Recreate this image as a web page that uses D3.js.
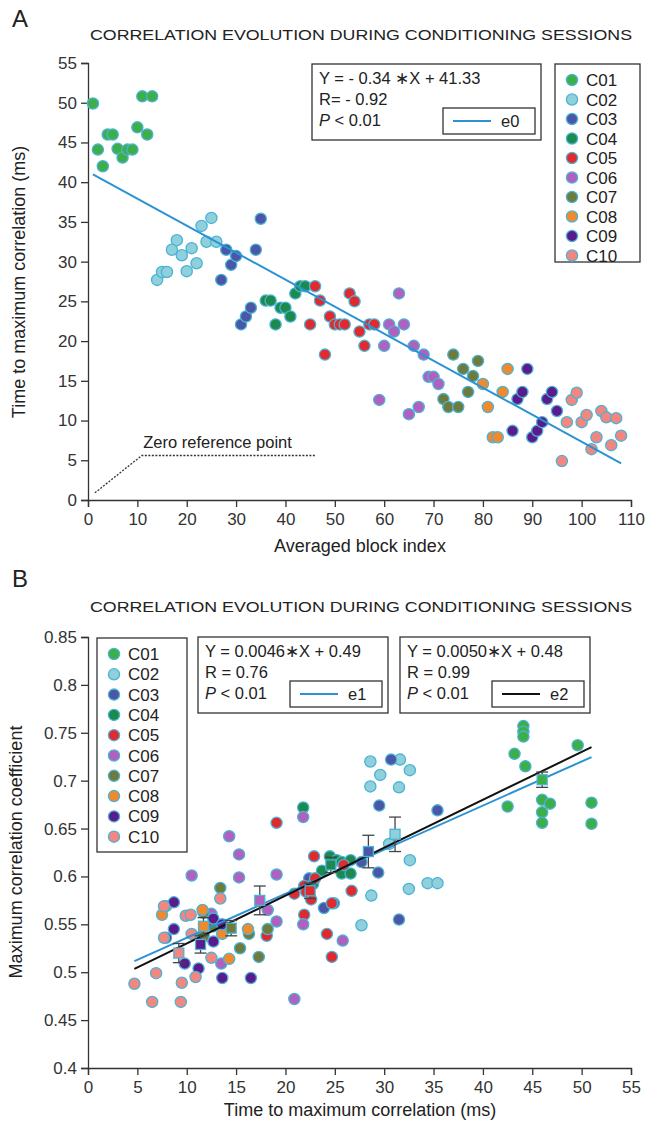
<!DOCTYPE html>
<html>
<head>
<meta charset="utf-8">
<script src="https://cdn.jsdelivr.net/npm/d3@7"></script>
<style>
  body { margin: 0; background: #fff; }
  svg { display: block; font-family: "Liberation Sans", Arial, sans-serif; }
  .axis path, .axis line { stroke: #333; stroke-width: 1.3; }
  .axis text { fill: #333; font-size: 17px; }
</style>
</head>
<body>
<div id="chart-area"></div>
<script>
// session names and colours
var sessions = ["C01", "C02", "C03", "C04", "C05", "C06", "C07", "C08", "C09", "C10"];
var colors = ["#3daf48", "#8fd0da", "#4b57a6", "#1b8a4c", "#e02a2e", "#b061bf",
              "#6d7c3e", "#f08a2c", "#5b1b8c", "#f2877f"];
var edge = "#4bb3d6";

// panel A: averaged block index -> time to maximum correlation (ms)
var blockA = [1,2,3,4,5,6,7,8,9,10,11,12,13,
  14,15,16,17,18,19,20,21,22,23,24,25,26,
  27,28,29,30,31,32,33,34,35,
  36,37,38,39,40,41,42,43,44,
  45,46,47,48,49,50,51,52,53,54,55,56,57,58,
  59,60,61,62,63,64,65,66,67,68,69,70,71,
  72,73,74,75,76,77,78,79,
  80,81,82,83,84,85,
  86,87,88,89,90,91,92,93,94,95,
  96,97,98,99,100,101,102,103,104,105,106,107,108];
var timeA = [49.9,44.1,42.0,46.0,46.0,44.2,43.1,44.1,44.1,46.9,50.8,46.0,50.8,
  27.7,28.7,28.7,31.5,32.7,30.8,28.8,31.7,29.8,34.5,32.5,35.5,32.5,
  27.7,31.5,29.6,30.7,22.1,23.1,24.2,31.5,35.4,
  25.1,25.1,22.1,24.2,24.2,23.1,26.0,26.9,26.9,
  22.1,26.9,25.1,18.3,23.1,22.1,22.1,22.1,26.0,25.0,21.2,19.4,22.1,22.1,
  12.6,19.4,22.1,21.2,26.0,22.1,10.8,19.4,11.7,18.3,15.5,15.5,14.6,
  12.7,11.7,18.3,11.7,16.5,13.6,15.6,17.5,
  14.6,11.7,7.9,7.9,13.6,16.5,
  8.7,12.7,13.6,16.5,7.9,8.7,9.8,12.7,13.6,11.2,
  4.9,9.8,12.6,13.5,9.8,10.7,6.4,7.9,11.2,10.4,6.9,10.3,8.1];
var sessA = [0,0,0,0,0,0,0,0,0,0,0,0,0,
  1,1,1,1,1,1,1,1,1,1,1,1,1,
  2,2,2,2,2,2,2,2,2,
  3,3,3,3,3,3,3,3,3,
  4,4,4,4,4,4,4,4,4,4,4,4,4,4,
  5,5,5,5,5,5,5,5,5,5,5,5,5,
  6,6,6,6,6,6,6,6,
  7,7,7,7,7,7,
  8,8,8,8,8,8,8,8,8,8,
  9,9,9,9,9,9,9,9,9,9,9,9,9];

// panel B: time to max correlation (ms) -> max correlation coefficient
var timeB = [42.5,43.2,44.1,44.1,44.1,44.3,46.0,46.0,46.0,46.8,49.6,51.0,51.0,
  28.6,31.6,29.6,32.6,28.6,31.5,30.5,32.6,27.7,28.7,32.5,34.4,35.4,
  30.7,29.5,35.4,31.5,23.9,27.7,22.4,24.9,29.4,
  24.5,25.2,25.7,26.6,23.7,25.7,26.6,22.8,21.8,
  19.1,22.9,20.9,21.9,21.9,22.6,24.2,24.7,24.7,26.7,18.1,22.1,25.9,23.0,
  10.5,12.5,13.5,14.3,15.3,15.3,18.2,19.1,19.1,20.9,21.8,21.8,25.8,
  11.7,11.7,12.7,13.4,15.4,16.3,17.3,18.2,
  7.5,7.9,11.6,13.6,14.3,16.2,
  7.9,8.7,8.7,9.8,11.2,12.7,12.7,13.6,13.6,16.5,
  4.7,6.5,6.9,9.4,9.5,10.9,7.7,7.7,9.9,10.4,10.5,12.5,13.4];
var corrB = [0.673,0.728,0.757,0.751,0.746,0.715,0.680,0.667,0.656,0.676,0.737,0.677,0.655,
  0.720,0.722,0.706,0.711,0.694,0.693,0.634,0.617,0.549,0.580,0.587,0.593,0.593,
  0.722,0.674,0.669,0.555,0.567,0.615,0.598,0.572,0.604,
  0.621,0.617,0.615,0.617,0.606,0.603,0.603,0.592,0.672,
  0.656,0.621,0.582,0.560,0.590,0.576,0.540,0.572,0.516,0.585,0.538,0.584,0.612,0.598,
  0.601,0.561,0.509,0.642,0.623,0.599,0.565,0.602,0.553,0.472,0.662,0.550,0.533,
  0.562,0.537,0.548,0.588,0.525,0.540,0.516,0.545,
  0.560,0.569,0.565,0.540,0.514,0.545,
  0.536,0.573,0.545,0.509,0.504,0.556,0.532,0.494,0.550,0.494,
  0.488,0.469,0.499,0.469,0.489,0.495,0.536,0.569,0.559,0.560,0.540,0.515,0.577];
var sessB = sessA;

// session means with error bars (panel B)
var meanX = [46.0, 31.1, 28.4, 24.6, 22.5, 17.4, 14.5, 11.7, 11.4, 9.2];
var meanY = [0.701, 0.644, 0.626, 0.612, 0.585, 0.575, 0.546, 0.548, 0.529, 0.520];
var meanErr = [0.008, 0.018, 0.017, 0.008, 0.008, 0.015, 0.008, 0.009, 0.009, 0.010];

// fits
var fitA = {slope: -0.34, icpt: 41.33, x0: 1, x1: 108};
var fitB1 = {slope: 0.0046, icpt: 0.49, x0: 4.7, x1: 51};
var fitB2 = {slope: 0.0050, icpt: 0.48, x0: 4.7, x1: 51};

var xTicksA = d3.range(0, 111, 10);
var yTicksA = d3.range(0, 56, 5);
var xTicksB = d3.range(0, 56, 5);
var yTicksB = [0.4, 0.45, 0.5, 0.55, 0.6, 0.65, 0.7, 0.75, 0.8, 0.85];

var svg = d3.select("#chart-area")
    .append("svg")
    .attr("width", 648)
    .attr("height", 1134);

var r = 5.6;

function drawLegend(g, x, y, w, h, gap) {
    g.append("rect").attr("x", x).attr("y", y).attr("width", w).attr("height", h)
        .attr("fill", "#fff").attr("stroke", "#333").attr("stroke-width", 1.3);
    sessions.forEach((s, i) => {
        g.append("circle").attr("cx", x + 17).attr("cy", y + 16 + i * gap).attr("r", r)
            .attr("fill", colors[i]).attr("stroke", edge).attr("stroke-width", 1.3);
        g.append("text").attr("x", x + 31).attr("y", y + 22 + i * gap)
            .attr("font-size", 17).attr("fill", "#222").text(s);
    });
}

function drawEqBox(g, x, y, w, h, lines, lineColor, name) {
    g.append("rect").attr("x", x).attr("y", y).attr("width", w).attr("height", h)
        .attr("fill", "#fff").attr("stroke", "#333").attr("stroke-width", 1.3);
    g.append("text").attr("x", x + 7).attr("y", y + 20).attr("font-size", 16.5).attr("fill", "#222").text(lines[0]);
    g.append("text").attr("x", x + 7).attr("y", y + 41).attr("font-size", 16.5).attr("fill", "#222").text(lines[1]);
    var t = g.append("text").attr("x", x + 7).attr("y", y + 62).attr("font-size", 16.5).attr("fill", "#222");
    t.append("tspan").attr("font-style", "italic").text("P");
    t.append("tspan").text(" < 0.01");
    var bx = x + w - 98, by = y + h - 32;
    g.append("rect").attr("x", bx).attr("y", by).attr("width", 92).attr("height", 26)
        .attr("fill", "#fff").attr("stroke", "#333").attr("stroke-width", 1.3);
    g.append("line").attr("x1", bx + 10).attr("x2", bx + 48).attr("y1", by + 13).attr("y2", by + 13)
        .attr("stroke", lineColor).attr("stroke-width", 2);
    g.append("text").attr("x", bx + 58).attr("y", by + 19).attr("font-size", 16.5).attr("fill", "#222").text(name);
}

// ---------------- panel A ----------------
var xA = d3.scaleLinear().domain([0, 110]).range([88, 631]);
var yA = d3.scaleLinear().domain([0, 55]).range([500, 63]);
var gA = svg.append("g");

gA.append("text").attr("x", 12).attr("y", 27).attr("font-size", 24).attr("fill", "#222").text("A");
gA.append("text").attr("x", 90).attr("y", 40).attr("font-size", 15.5).attr("fill", "#222")
    .attr("textLength", 542).attr("lengthAdjust", "spacingAndGlyphs")
    .text("CORRELATION EVOLUTION DURING CONDITIONING SESSIONS");

gA.append("g").attr("class", "axis").attr("transform", "translate(0,500)")
    .call(d3.axisBottom(xA).tickValues(xTicksA).tickSizeOuter(0).tickSize(7).tickPadding(6));
gA.append("g").attr("class", "axis").attr("transform", "translate(88,0)")
    .call(d3.axisLeft(yA).tickValues(yTicksA).tickSizeOuter(0).tickSize(7).tickPadding(4));

gA.append("text").attr("x", 360).attr("y", 552).attr("text-anchor", "middle")
    .attr("font-size", 18).attr("fill", "#222").text("Averaged block index");
gA.append("text").attr("transform", "translate(25,282) rotate(-90)").attr("text-anchor", "middle")
    .attr("font-size", 18).attr("fill", "#222").text("Time to maximum correlation (ms)");

// zero reference annotation
var zeroRef = [[1.4, 0.9], [10.9, 5.6], [46, 5.6]];
gA.append("path")
    .attr("d", d3.line().x(d => xA(d[0])).y(d => yA(d[1]))(zeroRef))
    .attr("fill", "none").attr("stroke", "#333").attr("stroke-width", 1.3).attr("stroke-dasharray", "2,1.5");
gA.append("text").attr("x", xA(11.2)).attr("y", yA(6.6)).attr("font-size", 16.5).attr("fill", "#222")
    .text("Zero reference point");

gA.selectAll("circle.pt").data(blockA).enter().append("circle")
    .attr("class", "pt")
    .attr("cx", d => xA(d))
    .attr("cy", (d, i) => yA(timeA[i]))
    .attr("r", r)
    .attr("fill", (d, i) => colors[sessA[i]])
    .attr("stroke", edge).attr("stroke-width", 1.3);

gA.append("line")
    .attr("x1", xA(fitA.x0)).attr("y1", yA(fitA.slope * fitA.x0 + fitA.icpt))
    .attr("x2", xA(fitA.x1)).attr("y2", yA(fitA.slope * fitA.x1 + fitA.icpt))
    .attr("stroke", "#2a93d3").attr("stroke-width", 2);

drawEqBox(gA, 312, 64, 229, 76, ["Y = - 0.34 \u2217X + 41.33", "R= - 0.92"], "#2a93d3", "e0");
drawLegend(gA, 555, 64, 85, 198, 19.5);

// ---------------- panel B ----------------
var xB = d3.scaleLinear().domain([0, 55]).range([88, 631]);
var yB = d3.scaleLinear().domain([0.4, 0.85]).range([1068, 637]);
var gB = svg.append("g");

gB.append("text").attr("x", 12).attr("y", 587).attr("font-size", 24).attr("fill", "#222").text("B");
gB.append("text").attr("x", 90).attr("y", 612).attr("font-size", 15.5).attr("fill", "#222")
    .attr("textLength", 542).attr("lengthAdjust", "spacingAndGlyphs")
    .text("CORRELATION EVOLUTION DURING CONDITIONING SESSIONS");

gB.append("g").attr("class", "axis").attr("transform", "translate(0,1068)")
    .call(d3.axisBottom(xB).tickValues(xTicksB).tickSizeOuter(0).tickSize(7).tickPadding(6));
gB.append("g").attr("class", "axis").attr("transform", "translate(88,0)")
    .call(d3.axisLeft(yB).tickValues(yTicksB).tickFormat(d3.format("")).tickSizeOuter(0).tickSize(7).tickPadding(4));

gB.append("text").attr("x", 360).attr("y", 1116).attr("text-anchor", "middle")
    .attr("font-size", 18).attr("fill", "#222").text("Time to maximum correlation (ms)");
gB.append("text").attr("transform", "translate(22,852) rotate(-90)").attr("text-anchor", "middle")
    .attr("font-size", 18).attr("fill", "#222").text("Maximum correlation coefficient");

gB.selectAll("circle.pt").data(timeB).enter().append("circle")
    .attr("class", "pt")
    .attr("cx", d => xB(d))
    .attr("cy", (d, i) => yB(corrB[i]))
    .attr("r", r)
    .attr("fill", (d, i) => colors[sessB[i]])
    .attr("stroke", edge).attr("stroke-width", 1.3);

[[fitB1, "#2a93d3"], [fitB2, "#111"]].forEach(([f, c]) => {
    gB.append("line")
        .attr("x1", xB(f.x0)).attr("y1", yB(f.slope * f.x0 + f.icpt))
        .attr("x2", xB(f.x1)).attr("y2", yB(f.slope * f.x1 + f.icpt))
        .attr("stroke", c).attr("stroke-width", 2);
});

// error bars and mean squares
var cap = 6;
meanX.forEach((mx, i) => {
    var cx = xB(mx), y1 = yB(meanY[i] - meanErr[i]), y2 = yB(meanY[i] + meanErr[i]);
    gB.append("line").attr("x1", cx).attr("x2", cx).attr("y1", y1).attr("y2", y2).attr("stroke", "#444").attr("stroke-width", 1.3);
    gB.append("line").attr("x1", cx - cap).attr("x2", cx + cap).attr("y1", y1).attr("y2", y1).attr("stroke", "#444").attr("stroke-width", 1.3);
    gB.append("line").attr("x1", cx - cap).attr("x2", cx + cap).attr("y1", y2).attr("y2", y2).attr("stroke", "#444").attr("stroke-width", 1.3);
    gB.append("rect").attr("x", cx - 5).attr("y", yB(meanY[i]) - 5).attr("width", 10).attr("height", 10)
        .attr("fill", colors[i]).attr("stroke", edge).attr("stroke-width", 1.3);
});

drawLegend(gB, 97, 638, 90, 214, 20.3);
drawEqBox(gB, 198, 637, 190, 76, ["Y = 0.0046\u2217X + 0.49", "R = 0.76"], "#2a93d3", "e1");
drawEqBox(gB, 400, 637, 190, 76, ["Y = 0.0050\u2217X + 0.48", "R = 0.99"], "#111", "e2");
</script>
</body>
</html>
